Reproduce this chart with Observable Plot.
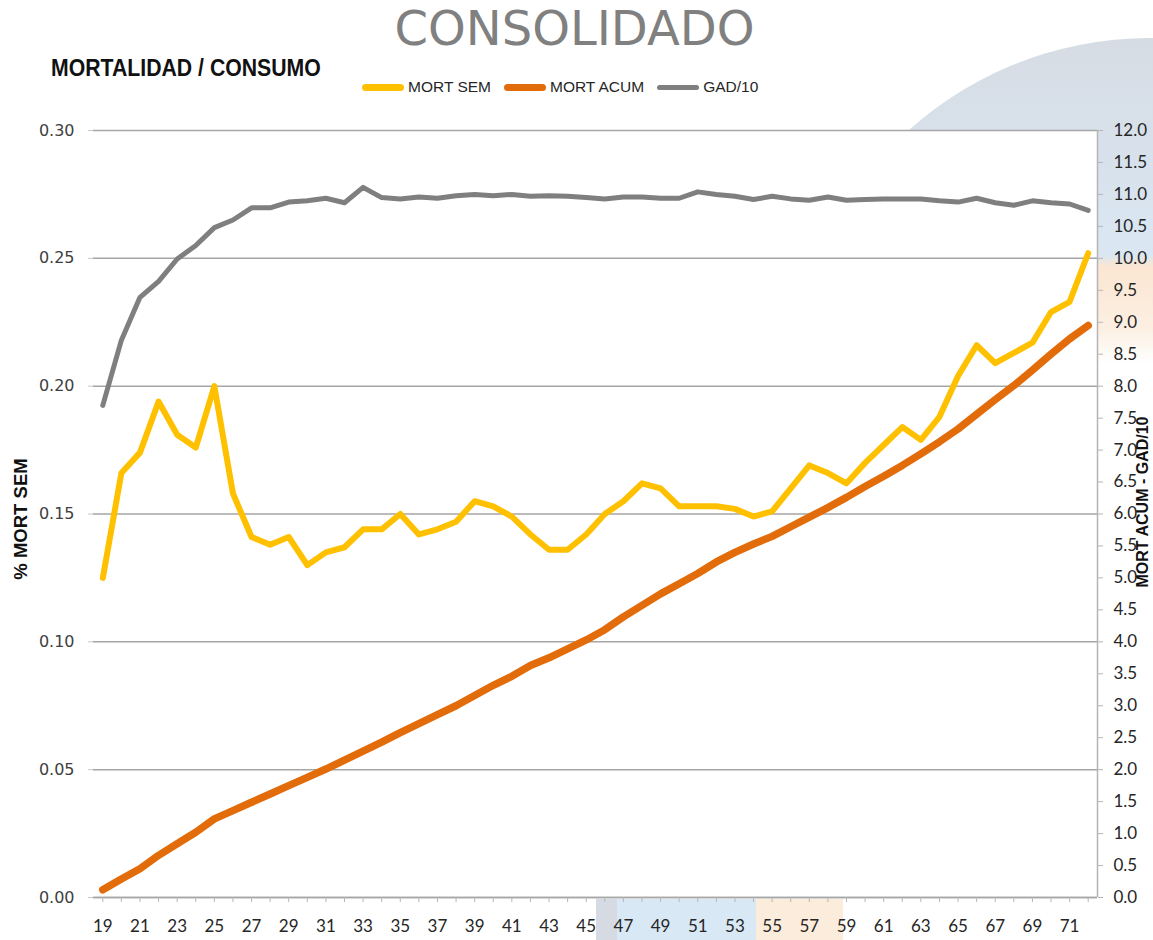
<!DOCTYPE html>
<html>
<head>
<meta charset="utf-8">
<script src="https://cdn.jsdelivr.net/npm/d3@7"></script>
<script src="https://cdn.jsdelivr.net/npm/@observablehq/plot@0.6"></script>
<style>
  html, body { margin: 0; padding: 0; background: #ffffff; }
  body { width: 1153px; height: 940px; overflow: hidden; position: relative; font-family: "Liberation Sans", sans-serif; }
  .deco { position: absolute; }
  #title { position: absolute; left: 0; width: 1149px; top: 0px; text-align: center; font-family: "DejaVu Sans", sans-serif; font-size: 48px; line-height: normal; color: #808080; font-weight: 400; }
  #subtitle { position: absolute; left: 51px; top: 54px; font-family: "Liberation Sans", sans-serif; font-weight: bold; font-size: 24px; line-height: normal; color: #111; transform: scaleX(0.885); transform-origin: 0 50%; white-space: nowrap; }
  #legend { position: absolute; left: 362px; top: 78px; display: flex; align-items: center; gap: 13px; font-family: "Liberation Sans", sans-serif; font-size: 15.5px; color: #262626; }
  #legend .item { display: flex; align-items: center; }
  #legend .sw { width: 42px; border-radius: 4px; margin-right: 4px; }
  .axtitle { position: absolute; transform: translate(-50%, -50%) rotate(-90deg); white-space: nowrap; font-family: "Liberation Sans", sans-serif; font-weight: bold; line-height: 1; color: #111; }
  #chart { position: absolute; left: 0; top: 100px; }
</style>
</head>
<body>
<div class="deco" style="left:788px;top:38px;width:724px;height:724px;border-radius:50%;background:linear-gradient(180deg,#d6dce4 0%,#d8e2ec 18%,#dae7f3 30%,#fae6d2 31.5%,#fcefe2 40%,rgba(255,255,255,0) 45%);"></div>
<div class="deco" style="left:596px;top:899px;width:21px;height:41px;background:#d6dbe3;"></div>
<div class="deco" style="left:617px;top:899px;width:139px;height:41px;background:#d8e8f4;"></div>
<div class="deco" style="left:756px;top:899px;width:87px;height:41px;background:#fcecdc;"></div>

<div id="title">CONSOLIDADO</div>
<div id="subtitle">MORTALIDAD / CONSUMO</div>
<div id="legend"></div>
<div class="axtitle" style="left:21px;top:519px;font-size:18.5px;">% MORT SEM</div>
<div class="axtitle" style="left:1143px;top:502px;font-size:16px;">MORT ACUM - GAD/10</div>
<div id="chart"></div>

<script>
// Categories (weeks)
const weeks = [19,20,21,22,23,24,25,26,27,28,29,30,31,32,33,34,35,36,37,38,39,40,41,42,43,44,45,46,47,48,49,50,51,52,53,54,55,56,57,58,59,60,61,62,63,64,65,66,67,68,69,70,71,72];

// MORT SEM (left axis, %)
const mortSem = [0.125,0.166,0.174,0.194,0.181,0.176,0.200,0.158,0.141,0.138,0.141,0.130,0.135,0.137,0.144,0.144,0.150,0.142,0.144,0.147,0.155,0.153,0.149,0.142,0.136,0.136,0.142,0.150,0.155,0.162,0.160,0.153,0.153,0.153,0.152,0.149,0.151,0.160,0.169,0.166,0.162,0.170,0.177,0.184,0.179,0.188,0.204,0.216,0.209,0.213,0.217,0.229,0.233,0.252];

// MORT ACUM (right axis)
const mortAcum = [0.12,0.29,0.45,0.66,0.84,1.02,1.23,1.36,1.49,1.62,1.75,1.88,2.01,2.15,2.29,2.43,2.58,2.72,2.86,3.00,3.16,3.32,3.46,3.63,3.75,3.89,4.03,4.19,4.39,4.57,4.75,4.91,5.07,5.25,5.40,5.53,5.65,5.80,5.95,6.10,6.26,6.43,6.59,6.76,6.94,7.13,7.33,7.56,7.79,8.01,8.25,8.50,8.74,8.95];

// GAD/10 (right axis)
const gad10 = [7.70,8.72,9.39,9.64,9.99,10.20,10.48,10.60,10.79,10.79,10.88,10.90,10.94,10.87,11.11,10.95,10.93,10.96,10.94,10.98,11.00,10.98,11.00,10.97,10.98,10.97,10.95,10.93,10.96,10.96,10.94,10.94,11.04,11.00,10.97,10.92,10.97,10.93,10.91,10.96,10.91,10.92,10.93,10.93,10.93,10.90,10.88,10.94,10.87,10.83,10.90,10.87,10.85,10.75];

// Tick labels
const leftTicks = [0, 0.05, 0.10, 0.15, 0.20, 0.25, 0.30];
const rightTicks = [0,0.5,1,1.5,2,2.5,3,3.5,4,4.5,5,5.5,6,6.5,7,7.5,8,8.5,9,9.5,10,10.5,11,11.5,12];
const xLabels = [19,21,23,25,27,29,31,33,35,37,39,41,43,45,47,49,51,53,55,57,59,61,63,65,67,69,71];

const seriesNames = ["MORT SEM", "MORT ACUM", "GAD/10"];
const seriesColors = ["#FFC000", "#E36C0A", "#7F7F7F"];

const leftMax = 0.30, rightMax = 12;
const ratio = leftMax / rightMax;

const rows = weeks.map((w, i) => ({week: w, sem: mortSem[i], acum: mortAcum[i], gad: gad10[i]}));

// Legend
const legend = document.getElementById("legend");
const swH = [7, 7, 5];
seriesNames.forEach((name, i) => {
  const it = document.createElement("div");
  it.className = "item";
  const sw = document.createElement("div");
  sw.className = "sw";
  sw.style.background = seriesColors[i];
  sw.style.height = swH[i] + "px";
  const tx = document.createElement("span");
  tx.textContent = name;
  it.appendChild(sw); it.appendChild(tx);
  legend.appendChild(it);
});

const gridColor = "#a6a6a6";

const chart = Plot.plot({
  width: 1153,
  height: 840,
  marginTop: 30,
  marginBottom: 43,
  marginLeft: 93,
  marginRight: 56,
  style: {background: "transparent", overflow: "visible"},
  x: {domain: [18.5, 72.5], axis: null},
  y: {domain: [0, leftMax], axis: null},
  marks: [
    Plot.frame({fill: "white", stroke: null}),
    Plot.gridY(leftTicks, {stroke: gridColor, strokeOpacity: 1, strokeWidth: 1.5}),
    Plot.ruleY([0], {stroke: gridColor, strokeWidth: 1.5}),
    Plot.ruleX([72.5], {stroke: "#b5b5b5", strokeWidth: 1.5}),
    Plot.axisY(leftTicks, {
      anchor: "left", tickSize: 5, tickPadding: 14, label: null,
      tickFormat: d => d.toFixed(2),
      fontSize: 16, fontFamily: "DejaVu Sans", fill: "#404040", stroke: "#c8c8c8"
    }),
    Plot.axisY(rightTicks.map(v => v * ratio), {
      anchor: "right", tickSize: 5, tickPadding: 11, label: null,
      tickFormat: d => (d / ratio).toFixed(1),
      fontSize: 17, fontFamily: "Lato", fill: "#262626", stroke: "#b5b5b5"
    }),
    Plot.axisX(weeks, {
      anchor: "bottom", tickSize: 5, label: null, tickFormat: () => "",
      stroke: "#b5b5b5"
    }),
    Plot.axisX(xLabels, {
      anchor: "bottom", tickSize: 0, tickPadding: 22, label: null,
      tickFormat: d => String(d),
      fontSize: 17, fontFamily: "Lato", fill: "#262626"
    }),
    Plot.line(rows, {x: "week", y: "sem", stroke: seriesColors[0], strokeWidth: 6, strokeLinecap: "round", strokeLinejoin: "round"}),
    Plot.line(rows, {x: "week", y: d => d.acum * ratio, stroke: seriesColors[1], strokeWidth: 7.5, strokeLinecap: "round", strokeLinejoin: "round"}),
    Plot.line(rows, {x: "week", y: d => d.gad * ratio, stroke: seriesColors[2], strokeWidth: 5, strokeLinecap: "round", strokeLinejoin: "round"})
  ]
});
document.getElementById("chart").appendChild(chart);
</script>
</body>
</html>
